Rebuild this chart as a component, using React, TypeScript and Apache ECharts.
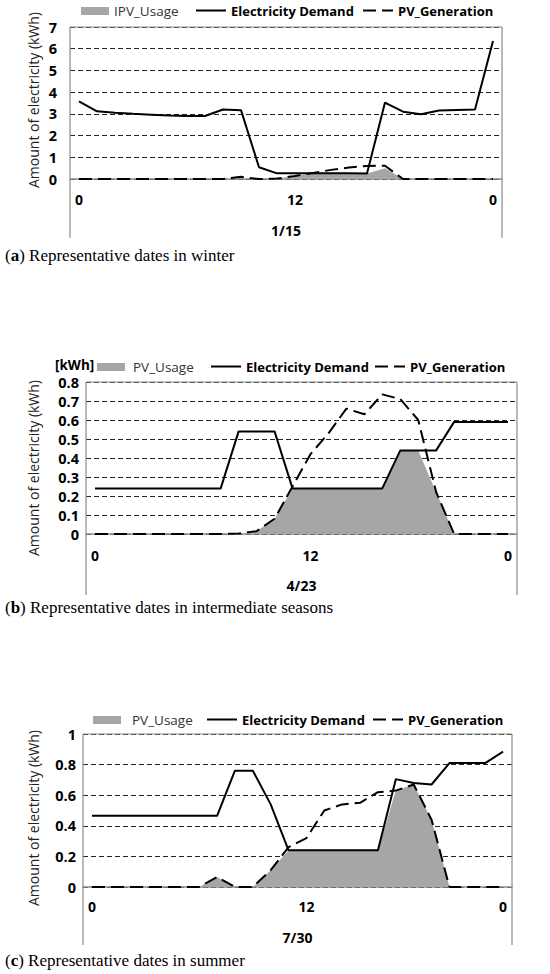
import React, { useEffect, useRef } from "react";
import * as echarts from "echarts";

const hours = Array.from({ length: 24 }, (_, i) => String(i));
const tickLabels = ["0", "", "", "", "", "", "", "", "", "", "", "", "12", "", "", "", "", "", "", "", "", "", "", "0"];

const demandWinter = [3.58, 3.12, 3.05, 3.0, 2.96, 2.92, 2.9, 2.9, 3.2, 3.17, 0.54, 0.26, 0.26, 0.26, 0.26, 0.26, 0.25, 3.52, 3.1, 2.98, 3.15, 3.18, 3.2, 6.35];
const pvWinter = [0, 0, 0, 0, 0, 0, 0, 0, 0, 0.1, 0, 0.02, 0.14, 0.28, 0.42, 0.53, 0.6, 0.61, 0, 0, 0, 0, 0, 0];
const usageWinter = [0, 0, 0, 0, 0, 0, 0, 0, 0, 0, 0, 0.02, 0.14, 0.25, 0.25, 0.25, 0.25, 0.5, 0, 0, 0, 0, 0, 0];

const demandMid = [0.24, 0.24, 0.24, 0.24, 0.24, 0.24, 0.24, 0.24, 0.54, 0.54, 0.54, 0.24, 0.24, 0.24, 0.24, 0.24, 0.24, 0.44, 0.44, 0.44, 0.59, 0.59, 0.59, 0.59];
const pvMid = [0, 0, 0, 0, 0, 0, 0, 0, 0.003, 0.015, 0.08, 0.25, 0.42, 0.53, 0.66, 0.63, 0.735, 0.71, 0.6, 0.22, 0, 0, 0, 0];
const usageMid = [0, 0, 0, 0, 0, 0, 0, 0, 0, 0.015, 0.08, 0.24, 0.24, 0.24, 0.24, 0.24, 0.24, 0.44, 0.44, 0.22, 0, 0, 0, 0];

const demandSummer = [0.465, 0.465, 0.465, 0.465, 0.465, 0.465, 0.465, 0.465, 0.76, 0.76, 0.54, 0.24, 0.24, 0.24, 0.24, 0.24, 0.24, 0.705, 0.68, 0.67, 0.81, 0.81, 0.81, 0.885];
const pvSummer = [0, 0, 0, 0, 0, 0, 0, 0.065, 0, 0, 0.11, 0.26, 0.32, 0.5, 0.54, 0.55, 0.62, 0.63, 0.67, 0.44, 0, 0, 0, 0];
const usageSummer = [0, 0, 0, 0, 0, 0, 0, 0.065, 0, 0, 0.11, 0.24, 0.24, 0.24, 0.24, 0.24, 0.24, 0.63, 0.67, 0.44, 0, 0, 0, 0];

const dates = ["1/15", "4/23", "7/30"];
const usageNames = ["IPV_Usage", "PV_Usage", "PV_Usage"];
const captions = [
  ["a", " Representative dates in winter"],
  ["b", " Representative dates in intermediate seasons"],
  ["c", " Representative dates in summer"],
];
const yMax = [7, 0.8, 1];
const yInterval = [1, 0.1, 0.2];

const FONT = "'Open Sans', 'Noto Sans', sans-serif";
const SERIF = "'Liberation Serif', 'DejaVu Serif', serif";

const LINE_ICON = "path://M0,0H30V2H0Z";
const DASH_ICON = "path://M0,0H13V2H0Z M19,0H30V2H19Z";
const RECT_ICON = "path://M0,0H28V8H0Z";

// layout per panel
const panels = [
  { left: 70, top: 27, width: 432, height: 152, frameBottom: 238, titleY: 100, nameY: 230, capY: 255, legendY: 12,
    legend: [81, 196, 363], usagePad: 0, labelMargin: 13 },
  { left: 86, top: 382, width: 431, height: 152, frameBottom: 595, titleY: 468, nameY: 585, capY: 607, legendY: 368,
    legend: [97, 211, 375], usagePad: 3, labelMargin: 14 },
  { left: 83, top: 734, width: 429, height: 153, frameBottom: 945, titleY: 818, nameY: 937, capY: 960, legendY: 721,
    legend: [93, 207, 373], usagePad: 6, labelMargin: 12 },
];

export default function App() {
  const ref = useRef<HTMLDivElement>(null);
  useEffect(() => {
    if (!ref.current) return;
    const chart = echarts.init(ref.current, null, { renderer: "svg" });
    const demand = [demandWinter, demandMid, demandSummer];
    const pv = [pvWinter, pvMid, pvSummer];
    const usage = [usageWinter, usageMid, usageSummer];

    const series: any[] = [];
    const legends: any[] = [];
    const graphics: any[] = [];

    panels.forEach((p, i) => {
      series.push({
        name: usageNames[i], type: "line", xAxisIndex: i, yAxisIndex: i, data: usage[i],
        symbol: "none", lineStyle: { width: 0 }, itemStyle: { color: "#a6a6a6" },
        areaStyle: { color: "#a6a6a6", opacity: 1 }, z: 1,
      });
      series.push({
        name: "Electricity Demand", type: "line", xAxisIndex: i, yAxisIndex: i, data: demand[i],
        symbol: "none", lineStyle: { color: "#000", width: 2 }, itemStyle: { color: "#000" }, z: 3,
      });
      series.push({
        name: "PV_Generation", type: "line", xAxisIndex: i, yAxisIndex: i, data: pv[i],
        symbol: "none", lineStyle: { color: "#000", width: 2, type: [13, 6] }, itemStyle: { color: "#000" }, z: 4,
      });

      const base = { itemHeight: 14, padding: 0, symbolKeepAspect: true, top: p.legendY - 8 };
      legends.push({
        ...base, left: p.legend[0], itemWidth: 28,
        data: [{ name: usageNames[i], icon: RECT_ICON }],
        textStyle: { fontFamily: FONT, fontSize: 13.5, color: "#333", fontWeight: "normal", padding: [0, 0, 0, p.usagePad] },
      });
      legends.push({
        ...base, left: p.legend[1], itemWidth: 30,
        data: [{ name: "Electricity Demand", icon: LINE_ICON }],
        textStyle: { fontFamily: FONT, fontSize: 13, color: "#000", fontWeight: "bold" },
      });
      legends.push({
        ...base, left: p.legend[2], itemWidth: 30,
        data: [{ name: "PV_Generation", icon: DASH_ICON }],
        textStyle: { fontFamily: FONT, fontSize: 13, color: "#000", fontWeight: "bold" },
      });

      const right = p.left + p.width;
      const frame = { stroke: "#8c8c8c", lineWidth: 1.2 };
      graphics.push({ type: "line", shape: { x1: p.left, y1: p.top, x2: right, y2: p.top }, style: frame, z: 10 });
      graphics.push({ type: "line", shape: { x1: p.left, y1: p.top, x2: p.left, y2: p.frameBottom }, style: frame, z: 10 });
      graphics.push({ type: "line", shape: { x1: right, y1: p.top, x2: right, y2: p.frameBottom }, style: frame, z: 10 });
      graphics.push({
        type: "text", x: 33, y: p.titleY, rotation: Math.PI / 2,
        style: { text: "Amount of electricity (kWh)", fontFamily: FONT, fontSize: 14, fill: "#222", align: "center", verticalAlign: "middle" },
      });
      graphics.push({
        type: "text", x: p.left + p.width / 2, y: p.nameY,
        style: { text: dates[i], fontFamily: FONT, fontSize: 14, fontWeight: "bold", fill: "#000", align: "center", verticalAlign: "middle" },
      });
      graphics.push({
        type: "text", x: 5, y: p.capY,
        style: {
          text: "({b|" + captions[i][0] + "})" + captions[i][1],
          fontFamily: SERIF, fontSize: 17, fill: "#000", verticalAlign: "middle",
          rich: { b: { fontFamily: SERIF, fontSize: 17, fontWeight: "bold", fill: "#000" } },
        },
      });
    });
    graphics.push({
      type: "text", x: 55, y: 365,
      style: { text: "[kWh]", fontFamily: FONT, fontSize: 13.5, fontWeight: "bold", fill: "#000", verticalAlign: "middle" },
    });

    chart.setOption({
      animation: false,
      grid: panels.map((p) => ({ left: p.left, top: p.top, width: p.width, height: p.height })),
      xAxis: panels.map((p, i) => ({
        type: "category", gridIndex: i, data: hours, boundaryGap: true,
        axisLine: { show: true, lineStyle: { color: "#8c8c8c", width: 1.5 } },
        axisTick: { show: false },
        axisLabel: {
          interval: 0, formatter: (_v: string, idx: number) => tickLabels[idx],
          color: "#000", fontWeight: "bold", fontSize: 14, fontFamily: FONT, margin: p.labelMargin,
        },
        splitLine: { show: false },
      })),
      yAxis: panels.map((p, i) => ({
        type: "value", gridIndex: i, min: 0, max: yMax[i], interval: yInterval[i],
        axisLine: { show: false }, axisTick: { show: false },
        axisLabel: { color: "#000", fontWeight: "bold", fontSize: 14.5, fontFamily: FONT, margin: i === 0 ? 13 : 7 },
        splitLine: { show: true, lineStyle: { color: "#222", width: 1, type: [5, 3] } },
      })),
      legend: legends,
      series,
      graphic: graphics,
    });
    return () => chart.dispose();
  }, []);
  return <div ref={ref} style={{ position: "absolute", left: 0, top: 0, width: 550, height: 974, background: "#fff" }} />;
}
